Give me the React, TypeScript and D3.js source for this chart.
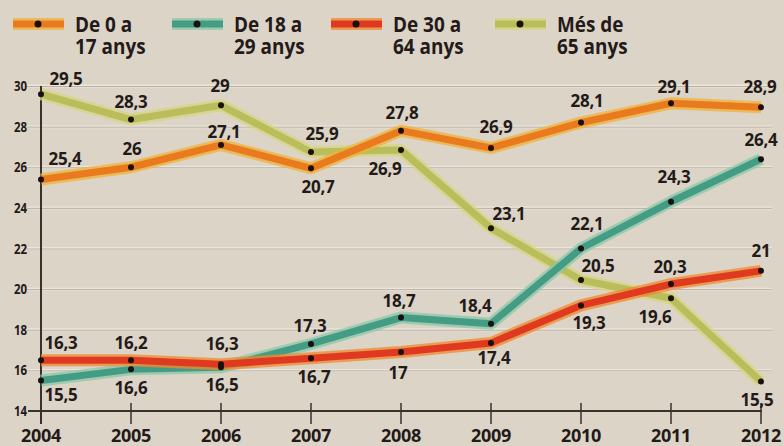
import React from "react";
import * as d3 from "d3";

const years = ["2004", "2005", "2006", "2007", "2008", "2009", "2010", "2011", "2012"];
const yTicks = [14, 16, 18, 20, 22, 24, 26, 28, 30];

const age0to17 = [25.4, 26.0, 27.1, 25.95, 27.8, 26.95, 28.2, 29.15, 28.95];
const age18to29 = [15.5, 16.05, 16.15, 17.3, 18.6, 18.3, 22.0, 24.3, 26.4];
const age30to64 = [16.5, 16.5, 16.3, 16.6, 16.9, 17.35, 19.2, 20.25, 20.9];
const age65plus = [29.6, 28.35, 29.05, 26.75, 26.85, 23.0, 20.45, 19.55, 15.45];

const seriesNames = ["De 0 a|17 anys", "De 18 a|29 anys", "De 30 a|64 anys", "Més de|65 anys"];

// value labels as printed: [series index, year index, text]
const labelTexts: [number, number, string][] = [
  [3, 0, "29,5"], [3, 1, "28,3"], [3, 2, "29"], [3, 3, "25,9"], [3, 4, "26,9"],
  [3, 5, "23,1"], [3, 6, "20,5"], [3, 7, "19,6"], [3, 8, "15,5"],
  [0, 0, "25,4"], [0, 1, "26"], [0, 2, "27,1"], [0, 3, "20,7"], [0, 4, "27,8"],
  [0, 5, "26,9"], [0, 6, "28,1"], [0, 7, "29,1"], [0, 8, "28,9"],
  [1, 0, "15,5"], [1, 1, "16,6"], [1, 2, "16,5"], [1, 3, "17,3"], [1, 4, "18,7"],
  [1, 5, "18,4"], [1, 6, "22,1"], [1, 7, "24,3"], [1, 8, "26,4"],
  [2, 0, "16,3"], [2, 1, "16,2"], [2, 2, "16,3"], [2, 3, "16,7"], [2, 4, "17"],
  [2, 5, "17,4"], [2, 6, "19,3"], [2, 7, "20,3"], [2, 8, "21"],
];
// label offsets from the point (dx, dy baseline)
const labelOffsets: [number, number][] = [
  [25, -9], [0, -12], [-1, -13], [11, -12], [-16, 25], [18, -8], [17, -8], [-16, 25], [-4, 24],
  [24, -14], [1, -12], [3, -7], [7, 25], [1, -12], [5, -15], [6, -16], [3, -10], [-1, -14],
  [20, 20], [0, 25], [1, 24], [-1, -12], [-2, -11], [-16, -12], [6, -19], [3, -19], [0, -13],
  [20, -11], [0, -11], [1, -14], [3, 25], [-3, 27], [3, 21], [8, 24], [-1, -11], [0, -14],
];

const styles = [
  { core: "#e97a1e", edge: "#f0b236" },
  { core: "#449c84", edge: "#8ac8a8" },
  { core: "#df3a1f", edge: "#f08a2e" },
  { core: "#b9bd5b", edge: "#d8d67e" },
];
const drawOrder = [3, 1, 2, 0];
const legendX = [13, 172, 331, 495];

export default function App() {
  const W = 784, H = 446;
  const x = d3.scalePoint<string>().domain(years).range([41, 761]);
  const y = d3.scaleLinear().domain([14, 30]).range([411, 86]);
  const data = [age0to17, age18to29, age30to64, age65plus];
  const line = d3.line<number>().x((_, i) => x(years[i])!).y((d) => y(d));
  const ink = "#231a19";
  const font = "'Open Sans', 'DejaVu Sans', sans-serif";

  return (
    <svg width={W} height={H} style={{ position: "absolute", left: 0, top: 0 }} fontFamily={font}>
      <rect width={W} height={H} fill="#dcd4c6" />
      {yTicks.filter((t) => t > 14).map((t) => (
        <g key={t}>
          <line x1={27} x2={772} y1={y(t)} y2={y(t)} stroke="#ebe5da" strokeWidth={3} />
          <line x1={27} x2={772} y1={y(t) + 0.5} y2={y(t) + 0.5} stroke="#b9b0a6" strokeWidth={1} />
        </g>
      ))}
      {yTicks.map((t) => (
        <text key={"yt" + t} transform={`translate(27,${y(t) + 5}) scale(0.85,1)`} textAnchor="end"
          fontSize={13.5} fontWeight={700} fill={ink}>{t}</text>
      ))}
      <line x1={41} x2={41} y1={86} y2={424} stroke="#3b302b" strokeWidth={2} />
      <line x1={28} x2={762} y1={411} y2={411} stroke="#3b302b" strokeWidth={2} />
      {years.map((yr) => (
        <g key={yr}>
          <line x1={x(yr)} x2={x(yr)} y1={403} y2={424} stroke="#3b302b" strokeWidth={1.5} />
          <text x={x(yr)} y={442} textAnchor="middle" fontSize={18} fontWeight={700} fill={ink}
            letterSpacing={-0.3}>{yr}</text>
        </g>
      ))}
      {drawOrder.map((s) => (
        <g key={"s" + s}>
          <path d={line(data[s])!} fill="none" stroke={styles[s].edge} strokeWidth={12} strokeLinejoin="round" opacity={0.75} />
          <path d={line(data[s])!} fill="none" stroke={styles[s].core} strokeWidth={7} strokeLinejoin="round" />
        </g>
      ))}
      {drawOrder.map((s) =>
        data[s].map((v, i) => (
          <circle key={`c${s}-${i}`} cx={x(years[i])} cy={y(v)} r={3} fill="#1a1010" />
        ))
      )}
      {labelTexts.map(([s, i, t], k) => (
        <text key={"l" + k} x={x(years[i])! + labelOffsets[k][0]} y={y(data[s][i]) + labelOffsets[k][1]}
          textAnchor="middle" fontSize={17} fontWeight={700} fill={ink} letterSpacing={-0.3}>{t}</text>
      ))}
      {seriesNames.map((n, s) => {
        const lx = legendX[s];
        const [l1, l2] = n.split("|");
        return (
          <g key={"lg" + s}>
            <line x1={lx} x2={lx + 51} y1={24} y2={24} stroke={styles[s].edge} strokeWidth={12} opacity={0.75} />
            <line x1={lx} x2={lx + 51} y1={24} y2={24} stroke={styles[s].core} strokeWidth={7} />
            <circle cx={lx + 25} cy={24} r={3.5} fill="#1a1010" />
            <text transform={`translate(${lx + 62},32) scale(0.88,1)`} fontSize={21.5} fontWeight={700} fill={ink}>{l1}</text>
            <text transform={`translate(${lx + 62},54) scale(0.88,1)`} fontSize={21.5} fontWeight={700} fill={ink}>{l2}</text>
          </g>
        );
      })}
    </svg>
  );
}
